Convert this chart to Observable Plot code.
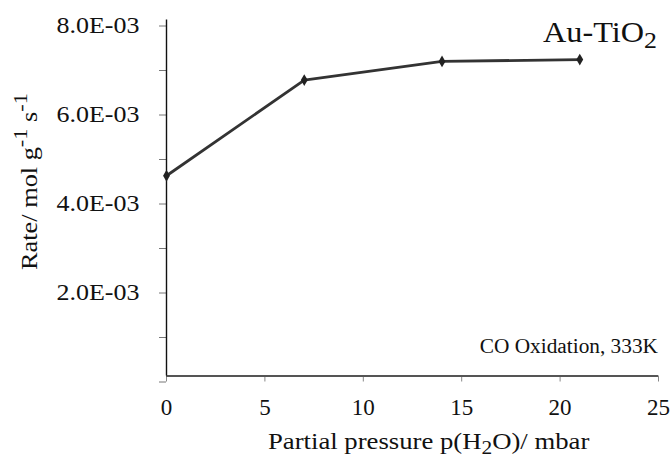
<!DOCTYPE html>
<html>
<head>
<meta charset="utf-8">
<script src="https://cdn.jsdelivr.net/npm/d3@7"></script>
<script src="https://cdn.jsdelivr.net/npm/@observablehq/plot@0.6"></script>
<style>
  html, body { margin: 0; padding: 0; background: #fff; }
  #chart { width: 670px; height: 459px; }
  #chart svg text { font-family: 'Liberation Serif', 'Times New Roman', serif; }
</style>
</head>
<body>
<div id="chart"></div>
<script>
// Data
const pressures = [0, 7, 14, 21];                 // p(H2O) in mbar
const rates = [4.5e-3, 6.65e-3, 7.07e-3, 7.11e-3]; // rate / mol g-1 s-1
const xTicks = [0, 5, 10, 15, 20, 25];
const yTicks = [0, 0.001, 0.002, 0.003, 0.004, 0.005, 0.006, 0.007, 0.008];
const yLabelTicks = [0.002, 0.004, 0.006, 0.008];
const seriesName = "Au-TiO";
const noteText = "CO Oxidation, 333K";

const data = pressures.map((p, i) => ({p, rate: rates[i]}));
const fmt = v => yLabelTicks.some(t => Math.abs(t - v) < 1e-9)
  ? (v * 1000).toFixed(1) + "E-03" : "";

const W = 670, H = 459;
const mL = 166, mR = 12, mT = 19.5, mB = 83.5;
const serif = "Liberation Serif, Times New Roman, serif";

const svg = Plot.plot({
  width: W, height: H,
  marginLeft: mL, marginRight: mR, marginTop: mT, marginBottom: mB,
  style: {fontFamily: serif, background: "#fff", color: "#111"},
  x: {domain: [0, 25]},
  y: {domain: [0, 0.008]},
  marks: [
    Plot.axisX({ticks: xTicks, tickSize: 6, tickPadding: 17, label: null,
      stroke: "#888", fill: "#111", fontSize: 23, fontFamily: serif, tickFormat: d => String(d)}),
    Plot.axisY({ticks: yTicks, tickSize: 7, tickPadding: 20, label: null,
      stroke: "#777", fill: "#111", fontSize: 23, fontFamily: serif, dy: 6, tickFormat: fmt}),
    Plot.ruleY([0], {stroke: "#555", strokeWidth: 2}),
    Plot.ruleX([0], {stroke: "#111", strokeWidth: 1.4}),
    Plot.line(data, {x: "p", y: "rate", stroke: "#333", strokeWidth: 2.8}),
    Plot.dot(data, {x: "p", y: "rate", symbol: "diamond", r: 3.6, fill: "#222", stroke: "none"})
  ]
});

document.getElementById("chart").appendChild(svg);
const s = d3.select(svg);
s.selectAll("text").attr("font-family", serif);

// stretch y tick labels horizontally to match reference
s.selectAll('g[aria-label="y-axis tick label"] text').each(function() {
  const t = d3.select(this);
  if (t.text().trim()) t.attr("textLength", 83).attr("lengthAdjust", "spacingAndGlyphs");
});

function addText(parts, {x, y, size, anchor = "start", rotate = 0, width}) {
  const g = s.append("g");
  const t = g.append("text")
    .attr("font-family", serif).attr("font-size", size).attr("fill", "#111")
    .attr("text-anchor", anchor);
  for (const p of parts) {
    const ts = t.append("tspan").text(p.text);
    if (p.sup) ts.attr("font-size", size * 0.85).attr("baseline-shift", Math.round(size * 0.42));
    if (p.sub) ts.attr("font-size", size * 0.8).attr("baseline-shift", -Math.round(size * 0.22));
  }
  const w = t.node().getBBox().width;
  const sx = width ? width / w : 1;
  g.attr("transform", `translate(${x},${y}) rotate(${rotate}) scale(${sx},1)`);
  return g;
}

// y-axis title
addText([{text: "Rate/ mol g"}, {text: "-1", sup: true}, {text: " s"}, {text: "-1", sup: true}],
  {x: 37, y: 270, size: 23, rotate: -90, width: 177});
// x-axis title
addText([{text: "Partial pressure p(H"}, {text: "2", sub: true}, {text: "O)/ mbar"}],
  {x: 268, y: 449, size: 23, width: 322});
// series label
addText([{text: seriesName}, {text: "2", sub: true}],
  {x: 543, y: 42, size: 29, width: 114});
// note
addText([{text: noteText}], {x: 658, y: 352.5, size: 20, anchor: "end", width: 179});
</script>
</body>
</html>
